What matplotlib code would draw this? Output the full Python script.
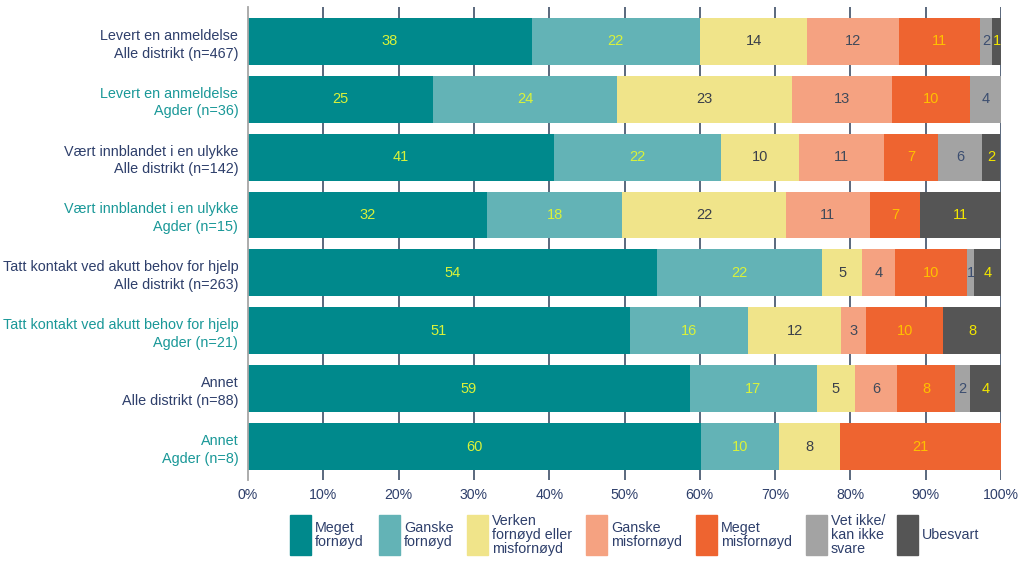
import matplotlib

matplotlib.use("Agg")
import matplotlib.pyplot as plt
import numpy as np
from matplotlib.patches import Rectangle

plt.rcParams["font.family"] = ["Liberation Sans", "DejaVu Sans"]

NAVY = "#2e3f6b"
TEAL_TXT = "#1a9898"

categories = [
    "Levert en anmeldelse\nAlle distrikt (n=467)",
    "Levert en anmeldelse\nAgder (n=36)",
    "Vært innblandet i en ulykke\nAlle distrikt (n=142)",
    "Vært innblandet i en ulykke\nAgder (n=15)",
    "Tatt kontakt ved akutt behov for hjelp\nAlle distrikt (n=263)",
    "Tatt kontakt ved akutt behov for hjelp\nAgder (n=21)",
    "Annet\nAlle distrikt (n=88)",
    "Annet\nAgder (n=8)",
]

series_names = [
    "Meget\nfornøyd",
    "Ganske\nfornøyd",
    "Verken\nfornøyd eller\nmisfornøyd",
    "Ganske\nmisfornøyd",
    "Meget\nmisfornøyd",
    "Vet ikke/\nkan ikke\nsvare",
    "Ubesvart",
]

# percent per category, one list per answer
meget_fornoyd = [37.7, 24.6, 40.6, 31.8, 54.3, 50.7, 58.7, 60.1]
ganske_fornoyd = [22.3, 24.4, 22.2, 17.9, 21.9, 15.7, 16.8, 10.4]
verken = [14.3, 23.2, 10.4, 21.7, 5.4, 12.4, 5.1, 8.1]
ganske_misfornoyd = [12.1, 13.3, 11.3, 11.2, 4.3, 3.3, 5.6, 0.0]
meget_misfornoyd = [10.8, 10.4, 7.1, 6.6, 9.6, 10.2, 7.7, 21.4]
vet_ikke = [1.6, 4.1, 5.9, 0.0, 0.9, 0.0, 2.0, 0.0]
ubesvart = [1.2, 0.0, 2.4, 10.8, 3.6, 7.7, 4.2, 0.0]

series = [meget_fornoyd, ganske_fornoyd, verken, ganske_misfornoyd,
          meget_misfornoyd, vet_ikke, ubesvart]

colors = ["#00898c", "#63b3b6", "#f0e48a", "#f5a281", "#ee6430", "#a3a3a3", "#555555"]
label_colors = ["#d9f23a", "#d9f23a", "#3a3f4a", "#404a5a", "#ffc000", "#3c4e70", "#f2e600"]

xticks = list(range(0, 101, 10))

fig = plt.figure(figsize=(10.23, 5.79), dpi=100)
W, H = 1023, 579
ax = fig.add_axes([248 / W, 1 - 480 / H, (1001 - 248) / W, (480 - 7) / H])

y = np.arange(len(categories))
left = np.zeros(len(categories))
for vals, col, tcol in zip(series, colors, label_colors):
    vals = np.array(vals)
    ax.barh(y, vals, left=left, height=0.81, color=col, edgecolor="none", zorder=2)
    for yi, (l, v) in enumerate(zip(left, vals)):
        if v > 0:
            ax.text(l + v / 2, yi, f"{round(v)}", ha="center", va="center",
                    fontsize=10.5, color=tcol, zorder=3)
    left += vals

for xt in xticks[1:]:
    ax.axvline(xt, color="#4d5d73", lw=1.3, zorder=1)

ax.set_xlim(0, 100)
ax.set_ylim(len(categories) - 1 + 0.575, -0.59)
ax.set_xticks(xticks)
ax.set_xticklabels([f"{t}%" for t in xticks], fontsize=10.2, color=NAVY)
ax.tick_params(axis="x", length=0, pad=6)
ax.set_yticks(y)
ax.set_yticklabels(categories, fontsize=10.4, linespacing=1.35)
ax.tick_params(axis="y", length=0, pad=7)
for i, lab in enumerate(ax.get_yticklabels()):
    lab.set_color(NAVY if i % 2 == 0 else TEAL_TXT)
    lab.set_horizontalalignment("right")

for side in ["top", "right", "bottom"]:
    ax.spines[side].set_visible(False)
ax.spines["left"].set_color("#a6a6a6")
ax.spines["left"].set_linewidth(1.3)

# legend drawn by hand below the plot
patch_x = [290, 379, 467, 586, 696, 806, 897]
for px, name, col in zip(patch_x, series_names, colors):
    fig.patches.append(Rectangle((px / W, 1 - 555 / H), 21 / W, 40 / H,
                                 transform=fig.transFigure, color=col))
    fig.text((px + 25) / W, 1 - 535 / H, name, ha="left", va="center",
             fontsize=10.3, color=NAVY, linespacing=1.0)

fig.savefig("out.png", dpi=100)
